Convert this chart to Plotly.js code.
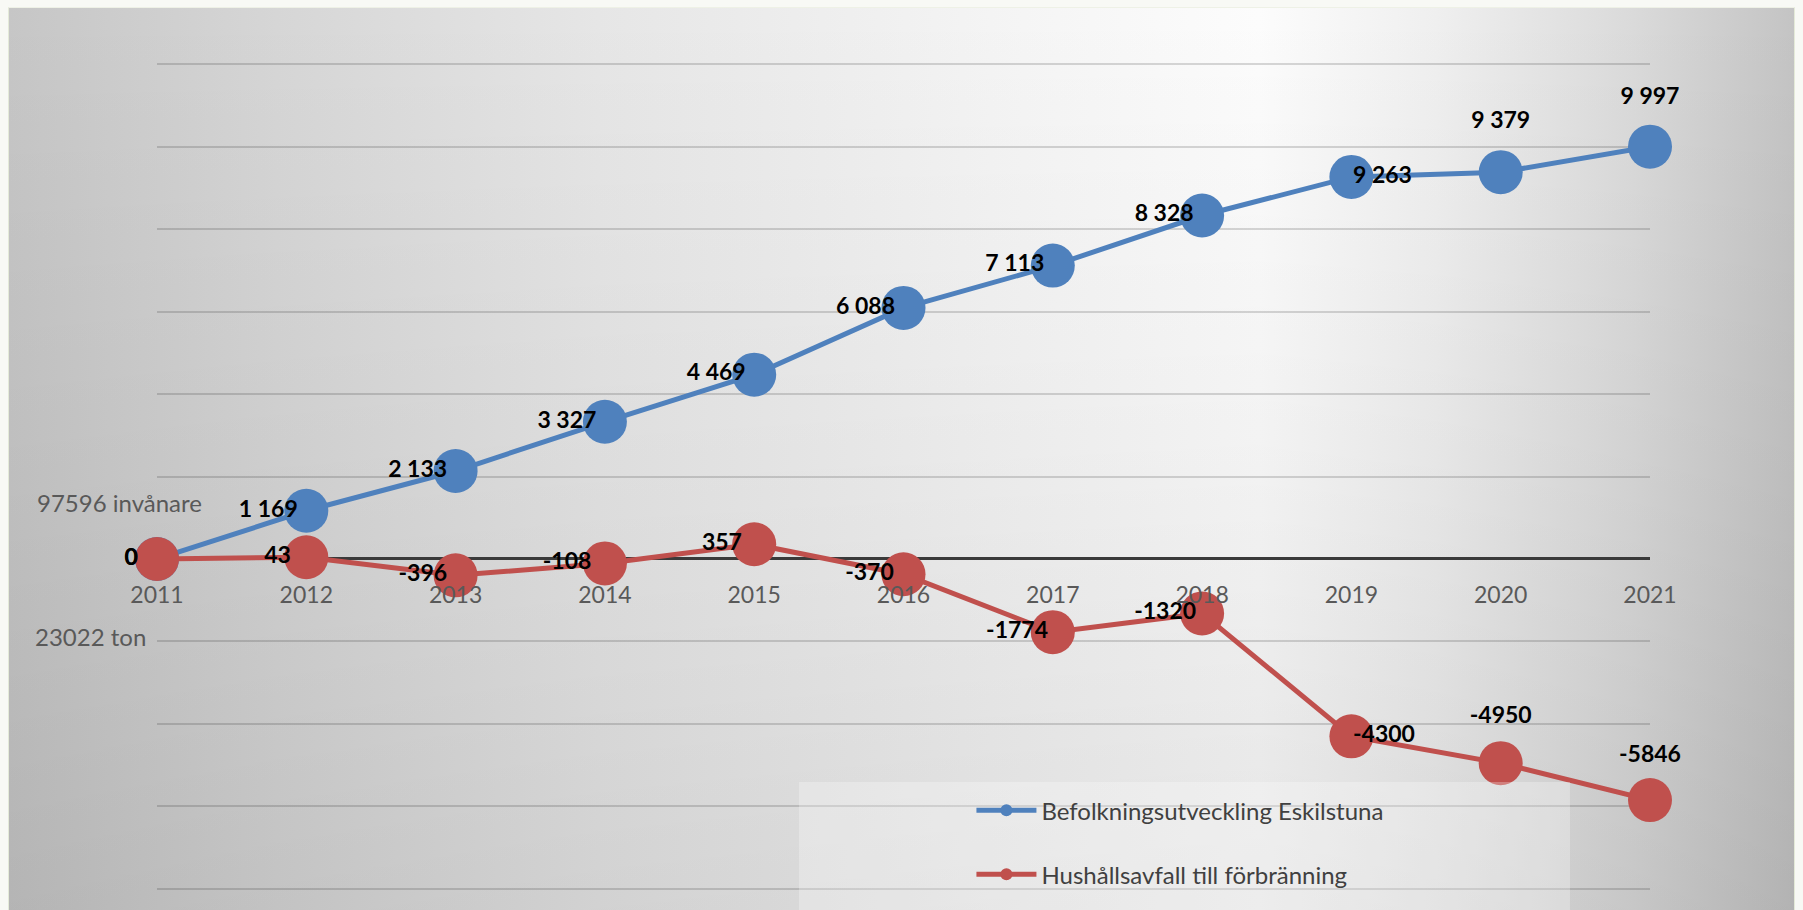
<!DOCTYPE html>
<html>
<head>
<meta charset="utf-8">
<script src="https://cdn.plot.ly/plotly-3.0.1.min.js"></script>
<style>
  html, body { margin: 0; padding: 0; width: 1803px; height: 910px; overflow: hidden; background: #f8f9f5; }
  #bg {
    position: absolute; left: 8px; top: 7px; width: 1785px; height: 910px;
    border-left: 1px solid #e4ead8; border-top: 1px solid #eef1e6; border-right: 1px solid #e4ead8;
    background:
      linear-gradient(to bottom, rgba(0,0,0,0) 0%, rgba(0,0,0,0.04) 50%, rgba(0,0,0,0.09) 100%),
      linear-gradient(to right, #c6c6c6 0%, #d6d6d6 15%, #e6e6e6 33%, #f4f4f4 55%, #fcfcfc 70%, #efefef 80%, #dadada 91%, #c4c4c4 100%);
  }
  #chart { position: absolute; left: 0; top: 0; width: 1803px; height: 910px; }
</style>
</head>
<body>
<div id="bg"></div>
<div id="chart"></div>
<script>
// ---- data ----
const years = [2011, 2012, 2013, 2014, 2015, 2016, 2017, 2018, 2019, 2020, 2021];
const yearLabels = ['2011', '2012', '2013', '2014', '2015', '2016', '2017', '2018', '2019', '2020', '2021'];
const befolkning = [0, 1169, 2133, 3327, 4469, 6088, 7113, 8328, 9263, 9379, 9997];
const hushallsavfall = [0, 43, -396, -108, 357, -370, -1774, -1320, -4300, -4950, -5846];
const seriesNames = ['Befolkningsutveckling Eskilstuna', 'Hushållsavfall till förbränning'];
const baseInvanare = '97596 invånare';
const baseTon = '23022 ton';

// ---- label styling (positions relative to each point) ----
const bluePos = ['middle left', 'middle left', 'middle left', 'middle left', 'middle left', 'middle left',
                 'middle left', 'middle left', 'middle right', 'top center', 'top center'];
const blueGap = [29, 12, 12, 12, 12, 12, 12, 12, 1, 60, 58];
const redPos = ['middle left', 'middle left', 'middle left', 'middle left', 'middle left', 'middle left',
                'middle left', 'middle left', 'middle right', 'top center', 'top center'];
const redGap = [29, 23, 12, 20, 18, 14, 6, 8, 1, 54, 50];

const BLUE = '#4F81BD';
const RED = '#C0504D';
const FONT = 'Lato, Carlito, Calibri, "Open Sans", sans-serif';

function spaced(n) {
  const s = String(Math.abs(n)).replace(/\B(?=(\d{3})+(?!\d))/g, ' ');
  return (n < 0 ? '-' : '') + s;
}

const traces = [
  {
    x: years, y: befolkning, name: seriesNames[0], legendgroup: 'a',
    type: 'scatter', mode: 'lines+markers', cliponaxis: false,
    line: { color: BLUE, width: 5 },
    marker: { color: BLUE, size: 44, line: { width: 0 } },
    hoverinfo: 'x+y'
  },
  {
    x: years, y: hushallsavfall, name: seriesNames[1], legendgroup: 'b',
    type: 'scatter', mode: 'lines+markers', cliponaxis: false,
    line: { color: RED, width: 5 },
    marker: { color: RED, size: 44, line: { width: 0 } },
    hoverinfo: 'x+y'
  },
  {
    x: years, y: befolkning, showlegend: false,
    type: 'scatter', mode: 'markers+text', cliponaxis: false,
    text: befolkning.map(spaced), textposition: bluePos,
    textfont: { family: FONT, size: 23, color: '#000000', weight: 'bold' },
    marker: { size: blueGap, color: 'rgba(0,0,0,0)', opacity: 0, line: { width: 0, color: 'rgba(0,0,0,0)' } },
    hoverinfo: 'skip'
  },
  {
    x: years, y: hushallsavfall, showlegend: false,
    type: 'scatter', mode: 'markers+text', cliponaxis: false,
    text: hushallsavfall.map(String), textposition: redPos,
    textfont: { family: FONT, size: 23, color: '#000000', weight: 'bold' },
    marker: { size: redGap, color: 'rgba(0,0,0,0)', opacity: 0, line: { width: 0, color: 'rgba(0,0,0,0)' } },
    hoverinfo: 'skip'
  }
];

const layout = {
  width: 1803, height: 910,
  margin: { l: 157, r: 153, t: 62, b: 19, autoexpand: false },
  paper_bgcolor: 'rgba(0,0,0,0)',
  plot_bgcolor: 'rgba(0,0,0,0)',
  font: { family: FONT, color: '#595959' },
  showlegend: true,
  legend: {
    x: 0.5455, xanchor: 'left', y: 0.1242, yanchor: 'top',
    bgcolor: 'rgba(0,0,0,0)', borderwidth: 0,
    itemsizing: 'constant', itemwidth: 60,
    traceorder: 'grouped', tracegroupgap: 30,
    font: { family: FONT, size: 24, color: '#404040' }
  },
  xaxis: {
    type: 'linear', range: [2011, 2021],
    anchor: 'free', position: 8050 / 20100,
    tickmode: 'array', tickvals: years, ticktext: yearLabels,
    ticks: 'outside', ticklen: 15, tickcolor: 'rgba(0,0,0,0)',
    tickfont: { family: FONT, size: 23, color: '#595959' },
    showgrid: false, zeroline: false, showline: false, fixedrange: true
  },
  yaxis: {
    range: [-8050, 12050], dtick: 2000, tick0: 0,
    showticklabels: false, ticks: '',
    showgrid: true, gridcolor: 'rgba(0,0,0,0.15)', gridwidth: 2,
    zeroline: true, zerolinecolor: '#3a3a3a', zerolinewidth: 3,
    showline: false, fixedrange: true
  },
  shapes: [
    {
      type: 'rect', xref: 'paper', yref: 'paper', layer: 'above',
      x0: 0.43, x1: 0.9464, y0: 0.1315, y1: -0.1,
      fillcolor: 'rgba(255,255,255,0.28)', line: { width: 0 }
    }
  ],
  annotations: [
    {
      text: baseInvanare, xref: 'paper', yref: 'paper',
      x: -0.0817, xanchor: 'left', y: 0.4692, yanchor: 'middle',
      showarrow: false, font: { family: FONT, size: 24, color: '#595959' }
    },
    {
      text: baseTon, xref: 'paper', yref: 'paper',
      x: -0.083, xanchor: 'left', y: 0.3064, yanchor: 'middle',
      showarrow: false, font: { family: FONT, size: 24, color: '#595959' }
    }
  ]
};

Plotly.newPlot('chart', traces, layout, { displayModeBar: false, staticPlot: true });
</script>
</body>
</html>
